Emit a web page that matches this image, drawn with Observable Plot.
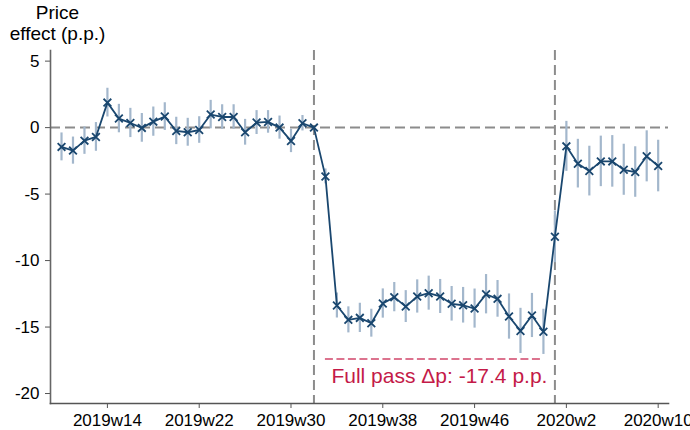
<!DOCTYPE html>
<html>
<head>
<meta charset="utf-8">
<script src="https://cdn.jsdelivr.net/npm/d3@7"></script>
<script src="https://cdn.jsdelivr.net/npm/@observablehq/plot@0.6"></script>
<style>
  html, body { margin: 0; padding: 0; background: #fff; }
  #chart svg { display: block; }
</style>
</head>
<body>
<div id="chart"></div>
<script>
const weeks = [
  "2019w10","2019w11","2019w12","2019w13","2019w14","2019w15","2019w16","2019w17","2019w18","2019w19",
  "2019w20","2019w21","2019w22","2019w23","2019w24","2019w25","2019w26","2019w27","2019w28","2019w29",
  "2019w30","2019w31","2019w32","2019w33","2019w34","2019w35","2019w36","2019w37","2019w38","2019w39",
  "2019w40","2019w41","2019w42","2019w43","2019w44","2019w45","2019w46","2019w47","2019w48","2019w49",
  "2019w50","2019w51","2019w52","2020w1","2020w2","2020w3","2020w4","2020w5","2020w6","2020w7",
  "2020w8","2020w9","2020w10"
];
const estimate = [
  -1.45,-1.73,-0.98,-0.70,1.88,0.68,0.35,-0.02,0.45,0.83,
  -0.25,-0.35,-0.18,0.98,0.80,0.80,-0.35,0.38,0.43,0.00,
  -1.00,0.33,0.00,-3.67,-13.38,-14.46,-14.31,-14.71,-13.23,-12.75,
  -13.46,-12.70,-12.45,-12.70,-13.25,-13.36,-13.61,-12.53,-12.88,-14.21,
  -15.29,-14.13,-15.36,-8.21,-1.41,-2.71,-3.27,-2.54,-2.54,-3.17,
  -3.34,-2.16,-2.89
];
const ciHalf = [
  1.05,1.02,1.03,1.08,1.08,1.07,1.10,1.08,1.10,1.04,
  1.03,1.05,1.00,1.07,0.92,0.92,0.97,0.90,0.85,0.87,
  0.88,0.58,0.00,0.56,0.94,0.98,1.10,1.05,1.10,1.10,
  1.20,1.25,1.28,1.28,1.30,1.34,1.47,1.48,1.38,1.70,
  1.70,1.66,1.70,1.95,1.88,1.83,1.87,1.90,1.94,1.92,
  1.90,1.92,1.94
];
const xTickLabels = ["2019w14","2019w22","2019w30","2019w38","2019w46","2020w2","2020w10"];
const yTicks = [5, 0, -5, -10, -15, -20];
const eventWeeks = ["2019w32","2020w1"];
const passStart = "2019w33", passEnd = "2019w52", passValue = -17.4;
const passLabel = "Full pass \u0394p: -17.4 p.p.";
const yLabel = "Price\neffect (p.p.)";

const idx = w => weeks.indexOf(w);
const data = weeks.map((w, i) => ({t: i, week: w, est: estimate[i], lo: estimate[i] - ciHalf[i], hi: estimate[i] + ciHalf[i]}));
const bars = data.filter(d => d.hi - d.lo > 0);

const navy = "#1a476f";
const font = "'Liberation Sans', Arial, Helvetica, sans-serif";

const chart = Plot.plot({
  width: 690,
  height: 430,
  marginLeft: 50,
  marginRight: 22,
  marginTop: 50,
  marginBottom: 27,
  style: {fontFamily: font, fontSize: "17px", color: "#000", background: "#fff"},
  x: {type: "linear", domain: [-0.96, 52.9], label: null},
  y: {domain: [-20.75, 5.8], label: null},
  marks: [
    Plot.ruleY([0], {stroke: "#8c8c8c", strokeWidth: 2, strokeDasharray: "10,5"}),
    Plot.ruleX(eventWeeks.map(idx), {stroke: "#8c8c8c", strokeWidth: 2, strokeDasharray: "10,5"}),
    Plot.ruleX(bars, {x: "t", y1: "lo", y2: "hi", stroke: "#a3b7cc", strokeWidth: 2.2}),
    Plot.line(data, {x: "t", y: "est", stroke: navy, strokeWidth: 1.8}),
    Plot.dot(data, {x: "t", y: "est", symbol: "times", r: 3.6, stroke: navy, strokeWidth: 1.8}),
    Plot.ruleY([passValue], {x1: idx(passStart), x2: idx(passEnd), stroke: "#c8244f", strokeOpacity: 0.85, strokeWidth: 1.6, strokeDasharray: "8,3.5"}),
    Plot.text([passLabel], {x: (idx(passStart) + idx(passEnd)) / 2, y: passValue, dx: 5, dy: 9, text: d => d, fill: "#c41a48", fontSize: 21, textAnchor: "middle", lineAnchor: "top"}),
    Plot.axisX({ticks: xTickLabels.map(idx), tickFormat: i => weeks[i], tickSize: 5, tickPadding: 5, stroke: "#555", fontSize: 17}),
    Plot.axisY({ticks: yTicks, tickFormat: d => String(d), tickSize: 5, tickPadding: 6, stroke: "#555", fontSize: 17}),
    Plot.frame({anchor: "left", stroke: "#666", strokeWidth: 1.6}),
    Plot.frame({anchor: "bottom", stroke: "#555", strokeWidth: 1.6}),
    Plot.text([yLabel], {frameAnchor: "top-left", text: d => d, dx: 7, dy: -11, fontSize: 19, lineHeight: 1.1, textAnchor: "middle", lineAnchor: "bottom", fill: "#000"})
  ]
});
document.getElementById("chart").appendChild(chart);
</script>
</body>
</html>
